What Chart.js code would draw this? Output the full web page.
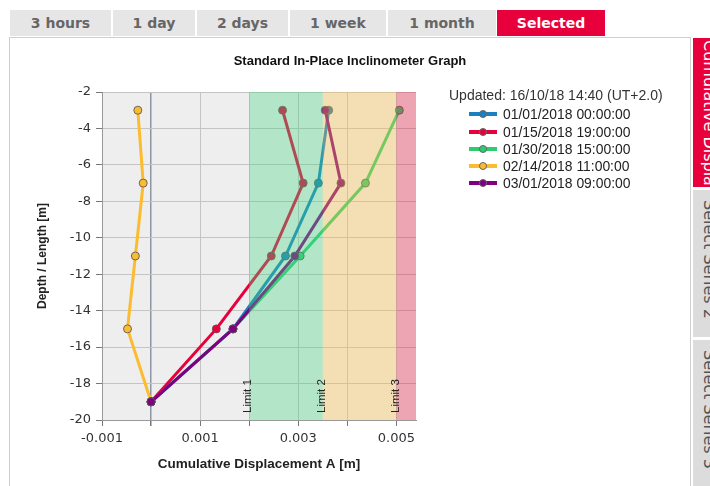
<!DOCTYPE html>
<html>
<head>
<meta charset="utf-8">
<script src="https://cdn.jsdelivr.net/npm/chart.js@4.4.1/dist/chart.umd.min.js"></script>
<style>
  html, body { margin: 0; padding: 0; background: #fff; }
  body { width: 710px; height: 486px; overflow: hidden; position: relative; font-family: 'Liberation Sans', Arial, sans-serif; }
  .tab { position: absolute; top: 10px; height: 26px; background: #e6e6e6; color: #666;
         font: bold 14px 'DejaVu Sans', sans-serif; line-height: 26px; text-align: center; }
  .tab.on { background: #e8003d; color: #fff; }
  #panel { position: absolute; left: 9px; top: 37px; width: 680px; height: 470px; border: 1px solid #cfcfcf; }
  #chart { position: absolute; left: 10px; top: 38px; }
  .side { position: absolute; left: 693px; width: 33px; background: #dcdcdc; color: #555; font: 16px 'DejaVu Sans', sans-serif;
          writing-mode: vertical-rl; line-height: 33px; overflow: hidden; white-space: nowrap; box-sizing: border-box; padding-top: 10px; }
  .side.on { background: #e8003d; color: #fff; padding-top: 2px; }
  .lg { position: absolute; height: 16px; line-height: 16px; white-space: nowrap; }
  .upd { left: 449px; top: 87px; font-size: 14px; color: #333; }
  .item { left: 469px; font-size: 13.9px; color: #222; }
  .sw { position: absolute; left: 0; top: 6px; width: 28px; height: 4px; }
  .dot { position: absolute; left: 10px; top: -2px; width: 6px; height: 6px; border-radius: 50%; border: 1px solid #666; }
  .txt { position: absolute; left: 34px; top: 0; }
</style>
</head>
<body>
<div id="panel"></div>
<canvas id="chart" width="680" height="448"></canvas>
<div id="legend"></div>
<script>
'use strict';

// ─── Data ─────────────────────────────────────────────────────────
const chartTitle = 'Standard In-Place Inclinometer Graph';
const updatedText = 'Updated: 16/10/18 14:40 (UT+2.0)';
const xTitle = 'Cumulative Displacement A [m]';
const yTitle = 'Depth / Length [m]';

const tabLabels = ['3 hours', '1 day', '2 days', '1 week', '1 month', 'Selected'];
const sideTabLabels = ['Cumulative Displacement', 'Select Series 2', 'Select Series 3'];

const depths = [-3, -7, -11, -15, -19];
const seriesLabels = ['01/01/2018 00:00:00', '01/15/2018 19:00:00', '01/30/2018 15:00:00', '02/14/2018 11:00:00', '03/01/2018 09:00:00'];
const seriesColors = ['#1a80c0', '#e8003d', '#2ecc71', '#fcbc2f', '#800080'];

const disp0101 = [0.00362, 0.00341, 0.00274, 0.00167, 0.0];
const disp0115 = [0.00268, 0.00310, 0.00245, 0.00133, 0.0];
const disp0130 = [0.00506, 0.00437, 0.00304, 0.00167, 0.0];
const disp0214 = [-0.00027, -0.00016, -0.00032, -0.00048, 0.0];
const disp0301 = [0.00355, 0.00387, 0.00293, 0.00167, 0.0];
const seriesValues = [disp0101, disp0115, disp0130, disp0214, disp0301];

const xTickValues = [-0.001, 0.001, 0.003, 0.005];
const xTickLabels = ['-0.001', '0.001', '0.003', '0.005'];

const limitValues = [0.002, 0.0035, 0.005];
const limitLabels = ['Limit 1', 'Limit 2', 'Limit 3'];
const zoneEnds = [0.0035, 0.005, 0.0054];
const zoneColors = ['rgba(69,215,129,0.35)', 'rgba(253,194,70,0.35)', 'rgba(235,26,70,0.35)'];

// ─── Tabs ─────────────────────────────────────────────────────────
const tabLeft = [10, 113, 197, 290, 388, 497];
const tabWidth = [101, 82, 91, 96, 108, 108];
tabLabels.forEach((t, i) => {
  const d = document.createElement('div');
  d.className = 'tab' + (i === tabLabels.length - 1 ? ' on' : '');
  d.style.left = tabLeft[i] + 'px';
  d.style.width = tabWidth[i] + 'px';
  d.textContent = t;
  document.body.appendChild(d);
});

const sideTop = [38, 190, 340];
const sideHeight = [149, 147, 160];
sideTabLabels.forEach((t, i) => {
  const d = document.createElement('div');
  d.className = 'side' + (i === 0 ? ' on' : '');
  d.style.top = sideTop[i] + 'px';
  d.style.height = sideHeight[i] + 'px';
  d.textContent = t;
  document.body.appendChild(d);
});

// ─── Legend ───────────────────────────────────────────────────────
const legendEl = document.getElementById('legend');
legendEl.innerHTML = `<div class="lg upd">${updatedText}</div>` +
  seriesLabels.map((l, i) => `
  <div class="lg item" style="top:${Math.round(106.3 + 17.2 * i)}px">
    <div class="sw" style="background:${seriesColors[i]}"><div class="dot" style="background:${seriesColors[i]}"></div></div>
    <div class="txt">${l}</div>
  </div>`).join('');

// ─── Plugins ──────────────────────────────────────────────────────
const plotBackground = {
  id: 'plotBackground',
  beforeDraw(chart) {
    const { ctx, chartArea: a } = chart;
    ctx.save();
    ctx.fillStyle = '#eeeeee';
    ctx.fillRect(a.left, a.top, a.right - a.left, a.bottom - a.top);
    ctx.restore();
  },
};

const limitZones = {
  id: 'limitZones',
  afterDatasetsDraw(chart) {
    const { ctx, chartArea: a } = chart;
    const x = chart.scales.x;
    ctx.save();
    limitValues.forEach((v, i) => {
      const x0 = x.getPixelForValue(v);
      const x1 = Math.min(x.getPixelForValue(zoneEnds[i]), a.right);
      ctx.fillStyle = zoneColors[i];
      ctx.fillRect(x0, a.top, x1 - x0, a.bottom - a.top);
    });
    ctx.font = "11.5px 'Liberation Sans'";
    ctx.fillStyle = '#222';
    ctx.textBaseline = 'middle';
    ctx.textAlign = 'left';
    limitValues.forEach((v, i) => {
      ctx.save();
      ctx.translate(x.getPixelForValue(v) - 1, a.bottom - 7);
      ctx.rotate(-Math.PI / 2);
      ctx.fillText(limitLabels[i], 0, 0);
      ctx.restore();
    });
    ctx.restore();
  },
};

// ─── Chart ────────────────────────────────────────────────────────
const tickFont = { family: 'DejaVu Sans', size: 13 };

new Chart(document.getElementById('chart'), {
  type: 'scatter',
  data: {
    datasets: seriesLabels.map((label, i) => ({
      label,
      data: depths.map((d, j) => ({ x: seriesValues[i][j], y: d })),
      showLine: true,
      borderColor: seriesColors[i],
      backgroundColor: seriesColors[i],
      borderWidth: 3,
      pointRadius: 4,
      pointBorderColor: 'rgba(85,85,85,0.85)',
      pointBorderWidth: 1,
      order: i === 4 ? 0 : i + 1,
    })),
  },
  options: {
    responsive: false,
    animation: false,
    devicePixelRatio: 1,
    layout: { padding: 0 },
    plugins: {
      legend: { display: false },
      tooltip: { enabled: false },
      title: {
        display: true,
        text: chartTitle,
        color: '#111',
        font: { family: 'Liberation Sans', size: 13, weight: 'bold' },
        padding: { top: 15.5, bottom: 22.9 },
      },
    },
    scales: {
      x: {
        type: 'linear',
        min: -0.001,
        max: 0.0054,
        afterFit: s => { s.height = 66; },
        ticks: {
          stepSize: 0.001,
          includeBounds: false,
          autoSkip: false,
          maxRotation: 0,
          padding: 5,
          color: '#333',
          font: tickFont,
          callback: v => {
            const k = xTickValues.findIndex(t => Math.abs(t - v) < 1e-9);
            return k < 0 ? '' : xTickLabels[k];
          },
        },
        grid: {
          color: c => (c.tick && Math.abs(c.tick.value) < 1e-9 ? '#8c96a6' : '#c4c4c4'),
          lineWidth: c => (c.tick && Math.abs(c.tick.value) < 1e-9 ? 1.5 : 1),
          tickColor: '#777',
          tickLength: 6,
        },
        border: { color: '#999', width: 1 },
        title: {
          display: true,
          text: xTitle,
          color: '#222',
          font: { family: 'Liberation Sans', size: 13.5, weight: 'bold' },
          padding: { top: 0, bottom: 14 },
        },
      },
      y: {
        type: 'linear',
        min: -20,
        max: -2,
        afterFit: s => { s.width = 92; },
        ticks: { stepSize: 2, padding: 5, color: '#333', font: tickFont },
        grid: { color: '#c4c4c4', tickColor: '#777', tickLength: 6 },
        border: { color: '#999', width: 1 },
        title: {
          display: true,
          text: yTitle,
          color: '#222',
          font: { family: 'Liberation Sans', size: 12, weight: 'bold' },
          padding: { top: 25.8, bottom: 0 },
        },
      },
      // empty right-hand axis that reserves the room the legend sits in
      legendRoom: {
        type: 'linear',
        position: 'right',
        afterFit: s => { s.width = 274; },
        ticks: { display: false },
        grid: { display: false, drawTicks: false },
        border: { display: false },
      },
    },
  },
  plugins: [plotBackground, limitZones],
});
</script>
</body>
</html>
